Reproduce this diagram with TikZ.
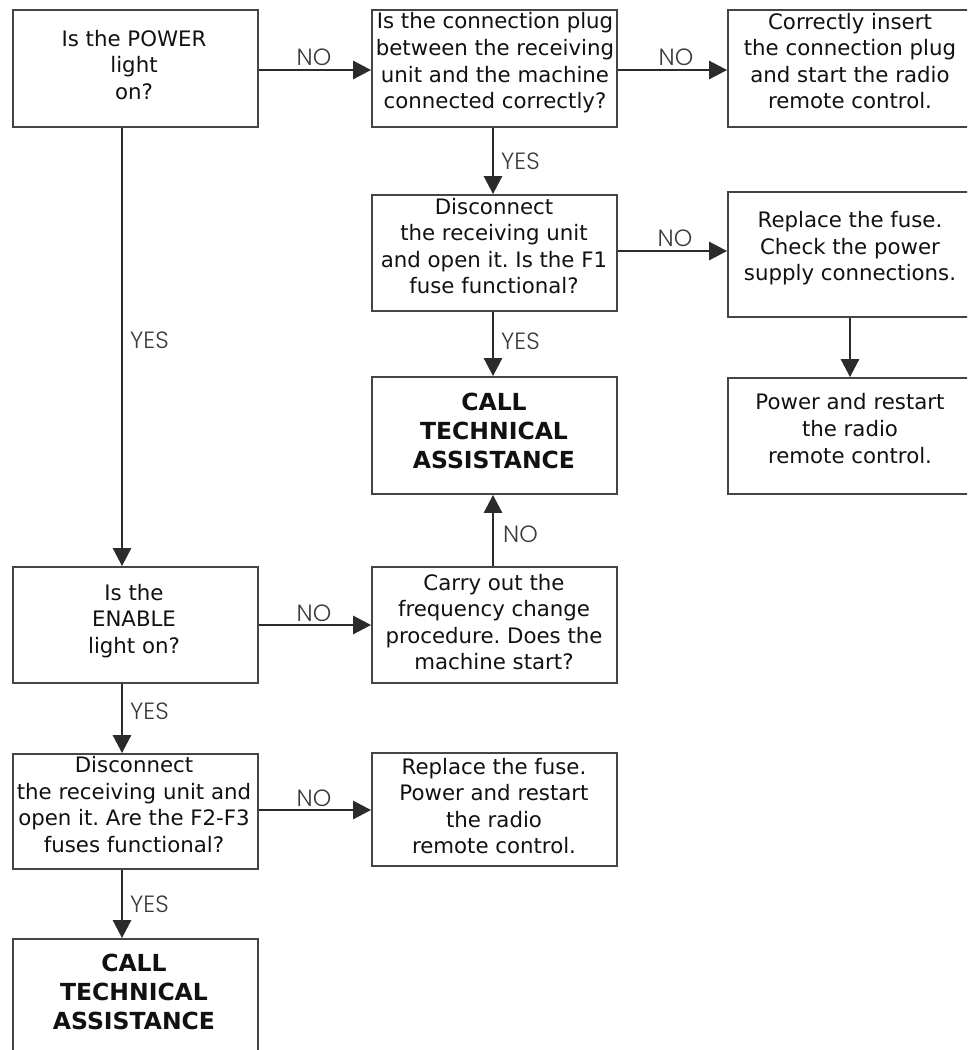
\documentclass[tikz,border=0pt]{standalone}
\usepackage{fontspec}
\setmainfont{DejaVu Sans}
\newfontfamily\lblfont{Poppins Light}
\usetikzlibrary{arrows.meta}
\definecolor{boxc}{HTML}{454545}
\definecolor{arrc}{HTML}{2B2B2B}
\definecolor{txtc}{HTML}{111111}
\definecolor{lblc}{HTML}{3A3A3A}
\frenchspacing
\begin{document}
\begin{tikzpicture}[x=1pt,y=-1pt,
  box/.style={draw=boxc, line width=1.8pt, inner sep=0pt, fill=white},
  txt/.style={align=center, text=txtc, inner sep=0pt, font=\fontsize{21.3}{26.6}\selectfont},
  btxt/.style={align=center, text=txtc, inner sep=0pt, font=\fontsize{23.5}{29}\selectfont\bfseries},
  arr/.style={draw=arrc, line width=2.7pt, -{Triangle[length=18pt,width=18pt]}},
  lbl/.style={text=lblc, inner sep=0pt, font=\fontsize{23.5}{28}\selectfont\lblfont},
]
\useasboundingbox (0,0) rectangle (967,1050);
\fill[white] (0,0) rectangle (967,1050);
\clip (0,0) rectangle (967,1050);

\coordinate (c1) at (122,0);
\coordinate (c2) at (493,0);
\coordinate (c3) at (850,0);
\coordinate (r1) at (0,70);
\coordinate (r2) at (0,251);
\coordinate (r3) at (0,625);
\coordinate (r4) at (0,810);

% boxes
\node[box, minimum width=245pt, minimum height=117pt] (A) at (135.5,68.5) {};
\node[box, minimum width=245pt, minimum height=117pt] (B) at (494.5,68.5) {};
\node[box, minimum width=244pt, minimum height=117pt] (C) at (850,68.5) {};
\node[box, minimum width=245pt, minimum height=116pt] (D) at (494.5,253) {};
\node[box, minimum width=244pt, minimum height=125pt] (E) at (850,254.5) {};
\node[box, minimum width=245pt, minimum height=117pt] (F) at (494.5,435.5) {};
\node[box, minimum width=244pt, minimum height=116pt] (G) at (850,436) {};
\node[box, minimum width=245pt, minimum height=116pt] (H) at (135.5,625) {};
\node[box, minimum width=245pt, minimum height=116pt] (I) at (494.5,625) {};
\node[box, minimum width=245pt, minimum height=115pt] (J) at (135.5,811.5) {};
\node[box, minimum width=245pt, minimum height=113pt] (K) at (494.5,809.5) {};
\node[box, minimum width=245pt, minimum height=121pt] (L) at (135.5,999.5) {};

% texts
\node[txt] (tA) at (134,65) {Is the POWER\\light\\on?};
\node[txt] (tB) at (495,63) {Is the connection plug\\between the receiving\\unit and the machine\\connected correctly?};
\node[txt] (tC) at (850,61) {Correctly insert\\the connection plug\\and start the radio\\remote control.};
\node[txt] (tD) at (494,246) {Disconnect\\the receiving unit\\and open it. Is the F1\\fuse functional?};
\node[txt] (tE) at (850,248.5) {Replace the fuse.\\Check the power\\supply connections.};
\node[btxt] (tF) at (494,430.5) {CALL\\TECHNICAL\\ASSISTANCE};
\node[txt] (tG) at (850,428.5) {Power and restart\\the radio\\remote control.};
\node[txt] (tH) at (134,621) {Is the\\ENABLE\\light on?};
\node[txt] (tI) at (494,622) {Carry out the\\frequency change\\procedure. Does the\\machine start?};
\node[txt] (tJ) at (134,804.5) {Disconnect\\the receiving unit and\\open it. Are the F2-F3\\fuses functional?};
\node[txt] (tK) at (494,806) {Replace the fuse.\\Power and restart\\the radio\\remote control.};
\node[btxt] (tL) at (134,991.5) {CALL\\TECHNICAL\\ASSISTANCE};

% connectors
\draw[arr] (A.east |- r1) -- (B.west |- r1);
\draw[arr] (B.east |- r1) -- (C.west |- r1);
\draw[arr] (B.south -| c2) -- (D.north -| c2);
\draw[arr] (D.east |- r2) -- (E.west |- r2);
\draw[arr] (D.south -| c2) -- (F.north -| c2);
\draw[arr] (E.south -| c3) -- (G.north -| c3);
\draw[arr] (A.south -| c1) -- (H.north -| c1);
\draw[arr] (H.east |- r3) -- (I.west |- r3);
\draw[arr] (I.north -| c2) -- (F.south -| c2);
\draw[arr] (H.south -| c1) -- (J.north -| c1);
\draw[arr] (J.east |- r4) -- (K.west |- r4);
\draw[arr] (J.south -| c1) -- (L.north -| c1);

% labels
\node[lbl] (nAB) at (314,57.5) {NO};
\node[lbl] (nBC) at (676,57.5) {NO};
\node[lbl] (nDE) at (675,238) {NO};
\node[lbl] (nHI) at (314,613) {NO};
\node[lbl] (nJK) at (314,798) {NO};
\node[lbl, anchor=west] (nIF) at (503,534.5) {NO};
\node[lbl, anchor=west] (yAH) at (130,340) {YES};
\node[lbl, anchor=west] (yBD) at (501,161) {YES};
\node[lbl, anchor=west] (yDF) at (501,341) {YES};
\node[lbl, anchor=west] (yHJ) at (130,711.5) {YES};
\node[lbl, anchor=west] (yJL) at (130,904) {YES};
\end{tikzpicture}
\end{document}
